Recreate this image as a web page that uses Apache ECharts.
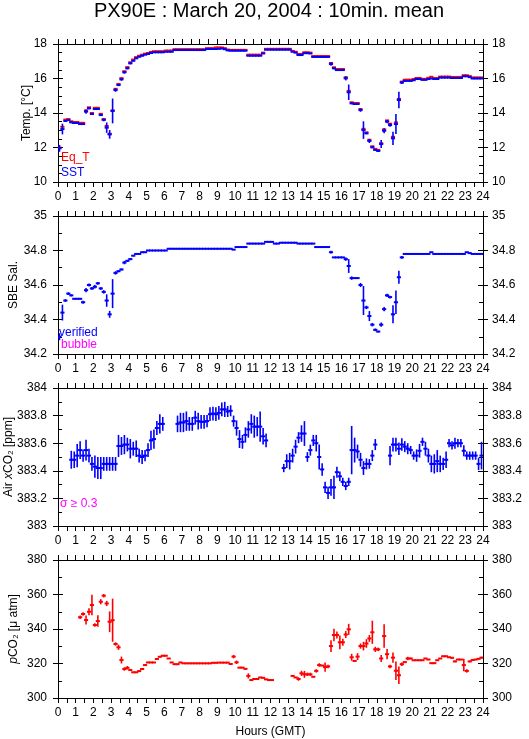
<!DOCTYPE html>
<html><head><meta charset="utf-8">
<script src="https://cdn.jsdelivr.net/npm/echarts@6/dist/echarts.min.js"></script>
<style>html,body{margin:0;padding:0;background:#fff}#c{width:529px;height:739px}</style>
</head><body><div id="c"></div>
<script>
// 10-minute slots (144 per day), slot centres in hours GMT
const hours = Array.from({length: 144}, (_, i) => (i + 0.5) / 6);
const xTickLabels = [0,1,2,3,4,5,6,7,8,9,10,11,12,13,14,15,16,17,18,19,20,21,22,23,24];

// Panel 1: Equilibrator temperature (red) and SST (blue), deg C
const eqT = [
 12.0, 13.2, 13.62, 13.65, 13.52, 13.48,
 13.48, 13.43, 13.43, 14.15, 14.33, 14.0,
 14.3, 14.3, 13.95, 13.65, 13.25, 12.8,
 14.15, 15.4, 15.68, 16.02, 16.42, 16.66,
 16.94, 17.1, 17.24, 17.32, 17.38, 17.44,
 17.48, 17.54, 17.58, 17.58, 17.58, 17.58,
 17.62, 17.62, 17.62, 17.7, 17.7, 17.7,
 17.7, 17.7, 17.7, 17.7, 17.7, 17.7,
 17.7, 17.7, 17.76, 17.76, 17.76, 17.8,
 17.8, 17.8, 17.76, 17.68, 17.66, 17.66,
 17.66, 17.66, 17.66, 17.66, 17.38, 17.38,
 17.38, 17.38, 17.38, 17.5, 17.72, 17.72,
 17.72, 17.72, 17.72, 17.72, 17.72, 17.72,
 17.72, 17.6, 17.55, 17.42, 17.42, 17.52,
 17.52, 17.5, 17.3, 17.3, 17.3, 17.3,
 17.3, 17.3, 16.9, 16.65, 16.55, 16.55,
 16.55, 16.07, 15.28, 14.62, 14.58, 14.58,
 14.23, 13.08, 12.88, 12.45, 12.07, 11.92,
 11.86, 12.25, 13.05, 13.57, 13.38, 12.62,
 13.45, 14.82, 15.82, 15.93, 15.93, 15.93,
 15.97, 16.03, 16.03, 15.98, 15.98, 16.04,
 16.1, 16.03, 16.03, 16.11, 16.11, 16.11,
 16.11, 16.09, 16.09, 16.09, 16.09, 16.19,
 16.19, 16.14, 16.06, 16.06, 16.06, 16.06
];
const sst = [
 11.95, 13.07, 13.54, 13.59, 13.46, 13.42,
 13.42, 13.36, 13.36, 14.08, 14.27, 13.94,
 14.23, 14.23, 13.88, 13.60, 13.15, 12.76,
 14.12, 15.33, 15.62, 15.95, 16.36, 16.59,
 16.88, 17.03, 17.17, 17.26, 17.32, 17.38,
 17.42, 17.48, 17.52, 17.52, 17.52, 17.52,
 17.55, 17.55, 17.55, 17.65, 17.65, 17.65,
 17.65, 17.65, 17.65, 17.65, 17.65, 17.65,
 17.65, 17.65, 17.71, 17.71, 17.71, 17.71,
 17.72, 17.74, 17.70, 17.63, 17.61, 17.61,
 17.61, 17.61, 17.61, 17.61, 17.32, 17.32,
 17.32, 17.32, 17.32, 17.45, 17.67, 17.67,
 17.67, 17.67, 17.67, 17.67, 17.67, 17.67,
 17.67, 17.55, 17.50, 17.36, 17.36, 17.47,
 17.47, 17.45, 17.25, 17.25, 17.25, 17.25,
 17.25, 17.25, 16.84, 16.59, 16.49, 16.49,
 16.49, 16.01, 15.20, 14.56, 14.52, 14.52,
 14.17, 13.01, 12.82, 12.38, 12.01, 11.86,
 11.80, 12.20, 12.97, 13.50, 13.30, 12.53,
 13.36, 14.75, 15.76, 15.86, 15.86, 15.86,
 15.90, 15.97, 15.97, 15.92, 15.92, 15.97,
 16.00, 15.97, 15.97, 16.05, 16.05, 16.05,
 16.05, 16.03, 16.03, 16.03, 16.03, 16.13,
 16.13, 16.08, 16.00, 16.00, 16.00, 16.00
];
const sstErr = [
 0.2, 0.31, 0.05, 0.05, 0.05, 0.03,
 0.03, 0.03, 0.05, 0.12, 0.05, 0.05,
 0.05, 0.05, 0.05, 0.08, 0.3, 0.25,
 0.72, 0.1, 0.06, 0.08, 0.08, 0.06,
 0.06, 0.04, 0.03, 0.03, 0.03, 0.02,
 0, 0, 0, 0, 0, 0,
 0, 0, 0, 0, 0, 0,
 0, 0, 0, 0, 0, 0,
 0, 0, 0, 0, 0, 0,
 0, 0, 0, 0, 0, 0,
 0, 0, 0, 0, 0, 0,
 0, 0, 0, 0, 0, 0,
 0, 0, 0, 0, 0, 0,
 0, 0, 0, 0, 0, 0,
 0, 0, 0, 0, 0, 0,
 0, 0, 0.1, 0.05, 0.03, 0.03,
 0.03, 0.12, 0.45, 0.05, 0.03, 0.03,
 0.1, 0.51, 0.05, 0.12, 0.05, 0.05,
 0.06, 0.23, 0.15, 0.1, 0.1, 0.39,
 0.58, 0.48, 0.08, 0.03, 0, 0,
 0, 0, 0, 0, 0, 0,
 0, 0, 0, 0, 0, 0,
 0, 0, 0, 0, 0, 0,
 0, 0, 0, 0, 0, 0
];

// Panel 2: SBE salinity (verified)
const sal = [
 34.30, 34.44, 34.51, 34.55, 34.54, 34.52,
 34.52, 34.52, 34.50, 34.57, 34.60, 34.58,
 34.59, 34.61, 34.58, 34.56, 34.51, 34.43,
 34.55, 34.67, 34.68, 34.69, 34.73, 34.74,
 34.75, 34.77, 34.78, 34.78, 34.79, 34.79,
 34.80, 34.80, 34.80, 34.80, 34.80, 34.80,
 34.80, 34.81, 34.81, 34.81, 34.81, 34.81,
 34.81, 34.81, 34.81, 34.81, 34.81, 34.81,
 34.81, 34.81, 34.81, 34.81, 34.81, 34.81,
 34.81, 34.81, 34.81, 34.81, 34.81, 34.805,
 34.82, 34.82, 34.82, 34.82, 34.84, 34.84,
 34.84, 34.84, 34.84, 34.84, 34.85, 34.85,
 34.85, 34.84, 34.84, 34.845, 34.845, 34.845,
 34.845, 34.845, 34.845, 34.84, 34.84, 34.84,
 34.84, 34.84, 34.84, 34.82, 34.82, 34.82,
 34.82, 34.82, 34.79, 34.76, 34.76, 34.76,
 34.76, 34.75, 34.71, 34.64, 34.64, 34.64,
 34.60, 34.51, 34.47, 34.42, 34.37, 34.34,
 34.33, 34.37, 34.46, 34.54, 34.53, 34.43,
 34.50, 34.645, 34.76, 34.78, 34.78, 34.78,
 34.78, 34.78, 34.78, 34.78, 34.78, 34.78,
 34.79, 34.78, 34.78, 34.78, 34.78, 34.78,
 34.78, 34.78, 34.78, 34.78, 34.78, 34.78,
 34.79, 34.785, 34.78, 34.78, 34.78, 34.78
];
const salErr = [
 0.02, 0.046, 0.008, 0.008, 0.006, 0.003,
 0.003, 0.003, 0.008, 0.012, 0.008, 0.008,
 0.01, 0.008, 0.008, 0.01, 0.036, 0.02,
 0.084, 0.01, 0.006, 0.006, 0.01, 0.006,
 0.006, 0.004, 0.004, 0.003, 0.003, 0.003,
 0, 0, 0, 0, 0, 0,
 0, 0, 0, 0, 0, 0,
 0, 0, 0, 0, 0, 0,
 0, 0, 0, 0, 0, 0,
 0, 0, 0, 0, 0, 0,
 0, 0, 0, 0, 0, 0,
 0, 0, 0, 0, 0, 0,
 0, 0, 0, 0, 0, 0,
 0, 0, 0, 0, 0, 0,
 0, 0, 0, 0, 0, 0,
 0, 0, 0.008, 0.003, 0.003, 0.003,
 0.003, 0.01, 0.04, 0.01, 0.003, 0.003,
 0.012, 0.084, 0.01, 0.029, 0.01, 0.008,
 0.005, 0.012, 0.012, 0.01, 0.008, 0.052,
 0.068, 0.038, 0.008, 0.003, 0, 0,
 0, 0, 0, 0, 0, 0,
 0, 0, 0, 0, 0, 0,
 0, 0, 0, 0, 0, 0,
 0, 0, 0, 0, 0, 0
];

// Panel 3: Atmospheric xCO2 (ppm)
const airXco2 = [
 null, null, null, null, 383.48, 383.48,
 383.51, 383.55, 383.51, 383.55, 383.51, 383.45,
 383.43, 383.42, 383.42, 383.45, 383.45, 383.45,
 383.45, 383.45, 383.58, 383.58, 383.59, 383.59,
 383.56, 383.56, 383.56, 383.51, 383.50, 383.51,
 383.55, 383.62, 383.63, 383.71, 383.74, 383.74,
 null, null, null, null, 383.74, 383.75,
 383.75, 383.76, 383.74, 383.74, 383.785, 383.76,
 383.755, 383.755, 383.76, 383.81, 383.815, 383.81,
 383.82, 383.845, 383.845, 383.83, 383.835, 383.76,
 383.71, 383.63, 383.61, 383.66, 383.70, 383.74,
 383.72, 383.72, 383.72, 383.65, 383.62, null,
 null, null, null, null, 383.42, 383.47,
 383.47, 383.51, 383.575, 383.64, 383.67, 383.67,
 383.50, 383.55, 383.62, 383.60, 383.50, 383.41,
 383.28, 383.24, 383.28, 383.28, 383.39, 383.36,
 383.32, 383.29, 383.32, 383.55, 383.55, 383.54,
 383.48, 383.42, 383.45, 383.45, 383.51, 383.59,
 null, null, null, null, 383.51, 383.59,
 383.59, 383.56, 383.59, 383.575, 383.56, 383.55,
 383.51, 383.51, 383.545, 383.61, 383.56, 383.51,
 383.45, 383.45, 383.47, 383.45, 383.45, 383.48,
 383.60, 383.585, 383.60, 383.60, 383.60, 383.545,
 383.51, 383.51, 383.51, 383.51, 383.45, 383.51
];
const airXco2Err = [
 0, 0, 0, 0, 0.065, 0.06,
 0.085, 0.065, 0.045, 0.075, 0.05, 0.05,
 0.08, 0.08, 0.08, 0.05, 0.05, 0.05,
 0.05, 0.05, 0.08, 0.065, 0.07, 0.05,
 0.07, 0.05, 0.06, 0.05, 0.05, 0.04,
 0.05, 0.07, 0.07, 0.05, 0.07, 0.05,
 0, 0, 0, 0, 0.06, 0.07,
 0.07, 0.07, 0.05, 0.05, 0.05, 0.06,
 0.05, 0.05, 0.045, 0.05, 0.05, 0.05,
 0.05, 0.05, 0.055, 0.04, 0.04, 0.04,
 0.055, 0.065, 0.05, 0.055, 0.06, 0.07,
 0.08, 0.07, 0.11, 0.06, 0.05, 0,
 0, 0, 0, 0, 0.03, 0.05,
 0.06, 0.05, 0.05, 0.04, 0.06, 0.09,
 0.035, 0.04, 0.04, 0.06, 0.09, 0.045,
 0.04, 0.045, 0.06, 0.085, 0.04, 0.035,
 0.03, 0.03, 0.03, 0.175, 0.09, 0.05,
 0.05, 0.05, 0.04, 0.035, 0.04, 0.04,
 0, 0, 0, 0, 0.07, 0.05,
 0.05, 0.045, 0.045, 0.04, 0.04, 0.03,
 0.03, 0.045, 0.05, 0.03, 0.05, 0.05,
 0.06, 0.07, 0.08, 0.06, 0.045, 0.06,
 0.03, 0.03, 0.04, 0.03, 0.03, 0.04,
 0.03, 0.03, 0.03, 0.03, 0.045, 0.1
];

// Panel 4: pCO2 (micro atm)
const pco2 = [
 null, null, null, null, null, null,
 null, 346.8, 348.7, 345.2, 350.0, 353.9,
 342.3, 344.6, 355.8, 359.3, 354.8, 344.2,
 345.1, 331.3, 329.4, 322.0, 316.8, 317.5,
 316.2, 314.9, 314.9, 315.6, 316.8, 319.1,
 320.6, 320.6, 320.6, 322.6, 323.9, 324.5,
 324.5, 322.9, 320.6, 319.6, 319.6, 320.6,
 320.1, 320.1, 320.1, 320.1, 320.1, 320.1,
 320.1, 320.1, 320.1, 320.1, 320.4, 320.4,
 320.5, 320.5, 320.5, 320.5, 319.7, 324.0,
 320.7, 317.6, 317.6, 316.9, 312.8, 310.4,
 311.0, 311.0, 311.9, 311.7, 310.8, 310.4,
 310.4, null, null, null, null, null,
 null, 312.8, 311.9, 311.0, 314.3, 313.7,
 313.7, 313.7, 312.3, 315.7, 319.1, 318.8,
 317.9, 318.3, 330.1, 336.5, 336.5, 332.3,
 332.3, 336.8, 339.8, 323.6, 321.5, 324.0,
 330.1, 330.1, 331.6, 334.5, 338.1, 328.2,
 328.2, 322.9, 335.9, 325.4, 318.3, 323.4,
 315.8, 313.2, 319.6, 320.8, 322.9, 322.9,
 321.9, 321.9, 321.9, 321.9, 322.9, 322.3,
 320.2, 320.2, 321.9, 322.9, 324.2, 324.2,
 323.6, 323.3, 321.2, 322.3, 322.3, 319.1,
 315.7, 321.2, 322.0, 322.3, 322.7, 323.4
];
const pco2Err = [
 0, 0, 0, 0, 0, 0,
 0, 1, 1, 2.6, 2, 6,
 1, 3.3, 1.5, 1, 1.5, 6,
 12.5, 1, 1.5, 2, 1, 1,
 0.5, 0.3, 0.3, 0.3, 0.3, 0.3,
 0.3, 0.3, 0.3, 0.3, 0.3, 0.3,
 0.3, 0.3, 0.3, 0.3, 0.3, 0.3,
 0, 0, 0, 0, 0, 0,
 0, 0, 0, 0, 0.3, 0.3,
 0, 0, 0, 0, 0.3, 1,
 1, 0.3, 0.3, 0.3, 1.5, 0.3,
 0.3, 0.3, 0.3, 0.3, 0.3, 0.3,
 0.3, 0, 0, 0, 0, 0,
 0, 0.3, 0.3, 1, 1.5, 2,
 1, 1, 0.3, 1, 1, 0.3,
 2.7, 1, 3.4, 3.6, 2, 4,
 2, 2, 3.2, 2, 0.5, 2,
 1.5, 2.5, 2.5, 2, 6.7, 1.5,
 1, 2, 6.8, 3, 1, 3,
 5.3, 5.1, 1, 0.3, 1, 0.5,
 0, 0, 0, 0, 0.3, 0.3,
 0.3, 0.3, 0.3, 0.3, 0.3, 0.3,
 0.3, 0.3, 0.5, 0.3, 0.3, 3.6,
 1, 0.5, 0.3, 0.3, 0.3, 0.5
];

const FONT = 'Liberation Sans';
const BLUE = '#0000ff', RED = '#ff0000', MAGENTA = '#ff00ff';
const tops = [44, 216, 388, 560];
const PH = 138;

const panels = [
  {min: 10, max: 18, interval: 2, minor: 4, name: 'Temp. [°C]', gap: 25},
  {min: 34.2, max: 35, interval: 0.2, minor: 2, name: 'SBE Sal.', gap: 38},
  {min: 383, max: 384, interval: 0.2, minor: 2, name: 'Air {i|x}CO₂ [ppm]', gap: 43},
  {min: 300, max: 380, interval: 20, minor: 2, name: '{i|p}CO₂ [μ atm]', gap: 38}
];

function pts(vals, errs) {
  const out = [];
  vals.forEach((v, i) => { if (v != null) out.push([hours[i], v, errs ? errs[i] : 0]); });
  return out;
}

function cross(color) {
  return function (params, api) {
    const t = api.value(0), v = api.value(1), e = api.value(2);
    const a = api.coord([t - 1 / 12, v]), b = api.coord([t + 1 / 12, v]);
    const ch = [{type: 'line', shape: {x1: a[0] - 0.6, y1: a[1], x2: b[0] + 0.6, y2: b[1]},
      style: {stroke: color, lineWidth: 2}}];
    if (e > 0) {
      const u = api.coord([t, v + e]), d = api.coord([t, v - e]);
      ch.push({type: 'line', shape: {x1: u[0], y1: u[1], x2: d[0], y2: d[1]},
        style: {stroke: color, lineWidth: 1.6}});
    }
    return {type: 'group', children: ch};
  };
}

const black = {color: '#000', width: 1};
const lab = {color: '#000', fontFamily: FONT, fontSize: 12};

const grid = tops.map(t => ({left: 58, right: 46, top: t, height: PH, containLabel: false, outerBoundsMode: 'none'}));
const xAxis = [], yAxis = [];
tops.forEach((t, g) => {
  const xb = {gridIndex: g, type: 'value', min: 0, max: 24, interval: 1, splitLine: {show: false},
    axisLine: {show: true, lineStyle: black}, axisTick: {show: true, length: 5, lineStyle: black},
    minorTick: {show: true, splitNumber: 2, length: 5, lineStyle: black}};
  xAxis.push(Object.assign({}, xb, {position: 'bottom',
    axisLabel: Object.assign({}, lab, {margin: 9, formatter: v => String(xTickLabels[Math.round(v)])}),
    name: g === 3 ? 'Hours (GMT)' : '', nameLocation: 'middle', nameGap: 28, nameMoveOverlap: false,
    nameTextStyle: Object.assign({}, lab)}));
  xAxis.push(Object.assign({}, xb, {position: 'top', axisLabel: {show: false}}));
  const p = panels[g];
  const yb = {gridIndex: g, type: 'value', min: p.min, max: p.max, interval: p.interval, splitLine: {show: false}};
  const outer = {axisLine: {show: true, lineStyle: black}, axisTick: {show: true, length: 5, lineStyle: black},
    minorTick: {show: false}};
  const inner = {axisLine: {show: false}, axisTick: {show: true, inside: true, length: 5, lineStyle: black},
    minorTick: {show: true, splitNumber: p.minor, length: 4, lineStyle: black}, axisLabel: {show: false}};
  yAxis.push(Object.assign({}, yb, outer, {position: 'left', axisLabel: Object.assign({}, lab, {margin: 11}),
    name: p.name, nameLocation: 'middle', nameGap: p.gap, nameMoveOverlap: false,
    nameTextStyle: Object.assign({}, lab, {rich: {i: {fontStyle: 'italic', fontFamily: FONT, fontSize: 12, color: '#000'}}})}));
  yAxis.push(Object.assign({}, yb, inner, {position: 'left'}));
  yAxis.push(Object.assign({}, yb, outer, {position: 'right', axisLabel: Object.assign({}, lab, {margin: 9})}));
  yAxis.push(Object.assign({}, yb, inner, {position: 'right'}));
});

function series(name, g, color, data) {
  return {name, type: 'custom', xAxisIndex: 2 * g, yAxisIndex: 4 * g, renderItem: cross(color),
    data, encode: {x: 0, y: 1}, silent: true, animation: false, clip: true};
}

function txt(x, y, text, color, size, align) {
  return {type: 'text', x, y, silent: true,
    style: {text, fill: color, fontFamily: FONT, fontSize: size, align: align || 'left', verticalAlign: 'middle'}};
}

const chart = echarts.init(document.getElementById('c'), null, {renderer: 'canvas'});
chart.setOption({
  backgroundColor: '#fff',
  animation: false,
  textStyle: {fontFamily: FONT},
  grid, xAxis, yAxis,
  series: [
    series('Eq_T', 0, RED, pts(eqT, null)),
    series('SST', 0, BLUE, pts(sst, sstErr)),
    series('SBE Sal.', 1, BLUE, pts(sal, salErr)),
    series('Air xCO2', 2, BLUE, pts(airXco2, airXco2Err)),
    series('pCO2', 3, RED, pts(pco2, pco2Err))
  ],
  graphic: [
    txt(269, 11, 'PX90E : March 20, 2004 : 10min. mean', '#000', 20, 'center'),
    txt(61, 158, 'Eq_T', RED, 12),
    txt(61, 172.5, 'SST', BLUE, 12),
    txt(59, 332.5, 'verified', BLUE, 12),
    txt(61, 345, 'bubble', MAGENTA, 12),
    txt(60, 504, 'σ ≥ 0.3', MAGENTA, 12)
  ]
});
</script></body></html>
